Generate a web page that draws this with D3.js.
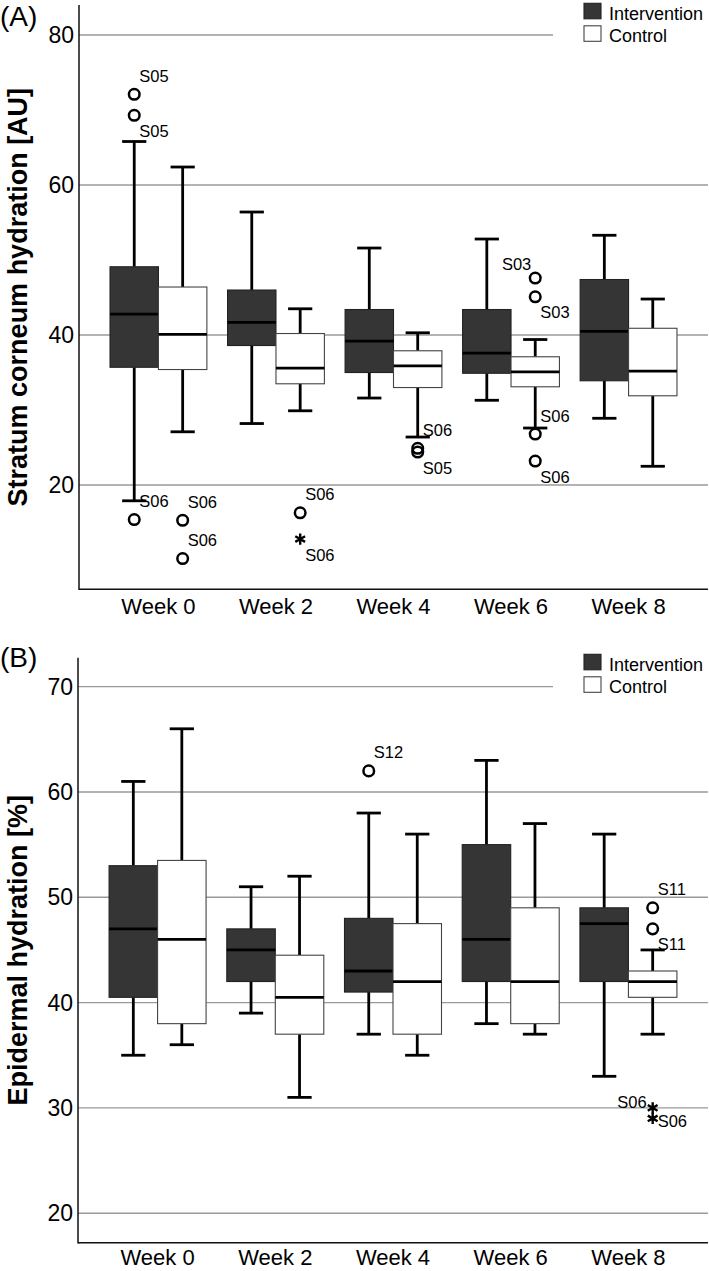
<!DOCTYPE html>
<html><head><meta charset="utf-8">
<script src="https://cdn.jsdelivr.net/npm/d3@7"></script>
<style>body{margin:0;background:#fff}svg{display:block;font-family:"Liberation Sans",Arial,sans-serif}</style>
</head><body><svg id="c" width="709" height="1271"></svg>
<script>
// ---------- DATA ----------
const weeks = ["Week 0", "Week 2", "Week 4", "Week 6", "Week 8"];
const groups = ["Intervention", "Control"];

// Panel A: Stratum corneum hydration [AU]; each entry [lower whisker, Q1, median, Q3, upper whisker]
const scInterv = [
  [17.9, 35.7, 42.8, 49.1, 65.8],
  [28.2, 38.6, 41.7, 46.0, 56.4],
  [31.6, 35.0, 39.2, 43.4, 51.6],
  [31.3, 34.9, 37.6, 43.4, 52.8],
  [28.9, 33.9, 40.5, 47.4, 53.3]
];
const scControl = [
  [27.1, 35.4, 40.1, 46.4, 62.4],
  [29.9, 33.5, 35.6, 40.2, 43.5],
  [26.4, 33.0, 35.9, 37.9, 40.3],
  [27.6, 33.1, 35.1, 37.1, 39.4],
  [22.5, 31.9, 35.2, 40.9, 44.8]
];
// outliers: week, group, value, kind ("o" outlier, "*" extreme), subject id, label side
const scOutliers = [
  {week: "Week 0", group: "Intervention", value: 72.1, kind: "o", id: "S05", side: "ar"},
  {week: "Week 0", group: "Intervention", value: 69.3, kind: "o", id: "S05", side: "br"},
  {week: "Week 0", group: "Intervention", value: 15.4, kind: "o", id: "S06", side: "ar"},
  {week: "Week 0", group: "Control", value: 15.3, kind: "o", id: "S06", side: "ar"},
  {week: "Week 0", group: "Control", value: 10.2, kind: "o", id: "S06", side: "ar"},
  {week: "Week 2", group: "Control", value: 16.3, kind: "o", id: "S06", side: "ar"},
  {week: "Week 2", group: "Control", value: 12.8, kind: "*", id: "S06", side: "br"},
  {week: "Week 4", group: "Control", value: 24.9, kind: "o", id: "S06", side: "ar"},
  {week: "Week 4", group: "Control", value: 24.4, kind: "o", id: "S05", side: "br"},
  {week: "Week 6", group: "Control", value: 47.6, kind: "o", id: "S03", side: "ul"},
  {week: "Week 6", group: "Control", value: 45.1, kind: "o", id: "S03", side: "br"},
  {week: "Week 6", group: "Control", value: 26.8, kind: "o", id: "S06", side: "ar"},
  {week: "Week 6", group: "Control", value: 23.2, kind: "o", id: "S06", side: "br"}
];
const scTicks = [20, 40, 60, 80];

// Panel B: Epidermal hydration [%]
const ehInterv = [
  [35, 40.5, 47, 53, 61],
  [39, 42, 45, 47, 51],
  [37, 41, 43, 48, 58],
  [38, 42, 46, 55, 63],
  [33, 42, 47.5, 49, 56]
];
const ehControl = [
  [36, 38, 46, 53.5, 66],
  [31, 37, 40.5, 44.5, 52],
  [35, 37, 42, 47.5, 56],
  [37, 38, 42, 49, 57],
  [37, 40.5, 42, 43, 45]
];
const ehOutliers = [
  {week: "Week 4", group: "Intervention", value: 62, kind: "o", id: "S12", side: "ar"},
  {week: "Week 8", group: "Control", value: 49, kind: "o", id: "S11", side: "ar"},
  {week: "Week 8", group: "Control", value: 47, kind: "o", id: "S11", side: "br"},
  {week: "Week 8", group: "Control", value: 30, kind: "*", id: "S06", side: "l"},
  {week: "Week 8", group: "Control", value: 29, kind: "*", id: "S06", side: "r"}
];
const ehTicks = [20, 30, 40, 50, 60, 70];

// ---------- DRAWING ----------
const svg = d3.select("#c");
const fillColor = {Intervention: "#353535", Control: "#ffffff"};
const strokeColor = {Intervention: "#222", Control: "#444"};
const labelOffsets = {
  ar: {dx: 5, dy: -12.5, anchor: "start"},
  br: {dx: 5, dy: 21.5, anchor: "start"},
  ul: {dx: -4, dy: -8, anchor: "end"},
  l: {dx: -6, dy: 0, anchor: "end"},
  r: {dx: 5, dy: 9, anchor: "start"}
};

function panel(cfg) {
  const g = svg.append("g");
  const y = d3.scaleLinear().domain(cfg.domain).range([cfg.bottom, cfg.top]);
  const x = d3.scaleBand().domain(weeks).range([cfg.left, cfg.right])
    .paddingInner(0.176).paddingOuter(0.264);
  const xs = d3.scaleBand().domain(groups).range([0, x.bandwidth()]);

  const legX = cfg.right - 124;
  // gridlines
  g.selectAll("line.grid").data(cfg.ticks).join("line")
    .attr("x1", cfg.left).attr("y1", d => y(d)).attr("y2", d => y(d))
    .attr("x2", d => (y(d) > cfg.legendTop - 6 && y(d) < cfg.legendTop + 44) ? legX - 31 : cfg.right)
    .attr("stroke", "#9a9a9a").attr("stroke-width", 1.4);
  // tick labels
  g.selectAll("text.tick").data(cfg.ticks).join("text")
    .attr("x", cfg.left - 5).attr("y", d => y(d)).attr("dy", "0.35em")
    .attr("text-anchor", "end").attr("font-size", 23).text(d => d);
  // axes
  g.append("line").attr("x1", cfg.left).attr("x2", cfg.left)
    .attr("y1", cfg.top).attr("y2", cfg.bottom + 0.7).attr("stroke", "#111").attr("stroke-width", 1.5);
  g.append("line").attr("x1", cfg.left).attr("x2", cfg.right)
    .attr("y1", cfg.bottom).attr("y2", cfg.bottom).attr("stroke", "#111").attr("stroke-width", 1.5);
  // x labels
  g.selectAll("text.xl").data(weeks).join("text")
    .attr("x", d => x(d) + x.bandwidth() / 2).attr("y", cfg.xLabelY)
    .attr("text-anchor", "middle").attr("font-size", 22).text(d => d);
  // y label
  g.append("text").attr("transform", `translate(27,${(cfg.top + cfg.bottom) / 2}) rotate(-90)`)
    .attr("text-anchor", "middle").attr("font-size", 27).attr("font-weight", "bold").text(cfg.ylabel);
  // panel tag
  g.append("text").attr("x", 0).attr("y", cfg.tagY).attr("font-size", 28).text(cfg.tag);

  // boxes
  const rows = [];
  weeks.forEach((w, i) => {
    rows.push({week: w, group: "Intervention", s: cfg.interv[i]});
    rows.push({week: w, group: "Control", s: cfg.control[i]});
  });
  const bw = xs.bandwidth();
  const cap = bw * 0.5;
  const bg = g.selectAll("g.box").data(rows).join("g")
    .attr("transform", d => `translate(${x(d.week) + xs(d.group)},0)`);
  // whiskers
  bg.append("line").attr("x1", bw / 2).attr("x2", bw / 2)
    .attr("y1", d => y(d.s[3])).attr("y2", d => y(d.s[4])).attr("stroke", "#000").attr("stroke-width", 2.8);
  bg.append("line").attr("x1", bw / 2).attr("x2", bw / 2)
    .attr("y1", d => y(d.s[1])).attr("y2", d => y(d.s[0])).attr("stroke", "#000").attr("stroke-width", 2.8);
  bg.append("line").attr("x1", bw / 2 - cap / 2).attr("x2", bw / 2 + cap / 2)
    .attr("y1", d => y(d.s[4])).attr("y2", d => y(d.s[4])).attr("stroke", "#000").attr("stroke-width", 2.8);
  bg.append("line").attr("x1", bw / 2 - cap / 2).attr("x2", bw / 2 + cap / 2)
    .attr("y1", d => y(d.s[0])).attr("y2", d => y(d.s[0])).attr("stroke", "#000").attr("stroke-width", 2.8);
  // box
  bg.append("rect").attr("x", 0).attr("width", bw)
    .attr("y", d => y(d.s[3])).attr("height", d => y(d.s[1]) - y(d.s[3]))
    .attr("fill", d => fillColor[d.group]).attr("stroke", d => strokeColor[d.group]).attr("stroke-width", 1.1);
  // median
  bg.append("line").attr("x1", 0).attr("x2", bw)
    .attr("y1", d => y(d.s[2])).attr("y2", d => y(d.s[2])).attr("stroke", "#000").attr("stroke-width", 2.8);

  // outliers
  const og = g.selectAll("g.out").data(cfg.outliers).join("g")
    .attr("transform", d => `translate(${x(d.week) + xs(d.group) + bw / 2},${y(d.value)})`);
  og.filter(d => d.kind === "o").append("circle").attr("r", 5.3)
    .attr("fill", "none").attr("stroke", "#000").attr("stroke-width", 2.5);
  og.filter(d => d.kind === "*").append("path")
    .attr("d", d3.symbol().type(d3.symbolAsterisk).size(90)())
    .attr("fill", "none").attr("stroke", "#000").attr("stroke-width", 2.4);
  og.append("text")
    .attr("x", d => labelOffsets[d.side].dx).attr("y", d => labelOffsets[d.side].dy)
    .attr("text-anchor", d => labelOffsets[d.side].anchor)
    .attr("font-size", 16.5).text(d => d.id);

  // legend
  const lg = g.selectAll("g.leg").data(groups).join("g")
    .attr("transform", (d, i) => `translate(${legX},${cfg.legendTop + i * 22.5})`);
  lg.append("rect").attr("width", 17).attr("height", 15.5)
    .attr("fill", d => fillColor[d]).attr("stroke", d => strokeColor[d]).attr("stroke-width", 1.1);
  lg.append("text").attr("x", 25).attr("y", 16.5).attr("font-size", 18).text(d => d);
}

panel({
  tag: "(A)", tagY: 26, ylabel: "Stratum corneum hydration [AU]",
  domain: [6.1, 84], top: 5, bottom: 589.3, left: 79, right: 708,
  ticks: scTicks, interv: scInterv, control: scControl, outliers: scOutliers,
  legendTop: 3.3, xLabelY: 614
});
panel({
  tag: "(B)", tagY: 667, ylabel: "Epidermal hydration [%]",
  domain: [17.2, 72.75], top: 657.7, bottom: 1242.7, left: 78, right: 708,
  ticks: ehTicks, interv: ehInterv, control: ehControl, outliers: ehOutliers,
  legendTop: 654.3, xLabelY: 1265
});
</script></body></html>
